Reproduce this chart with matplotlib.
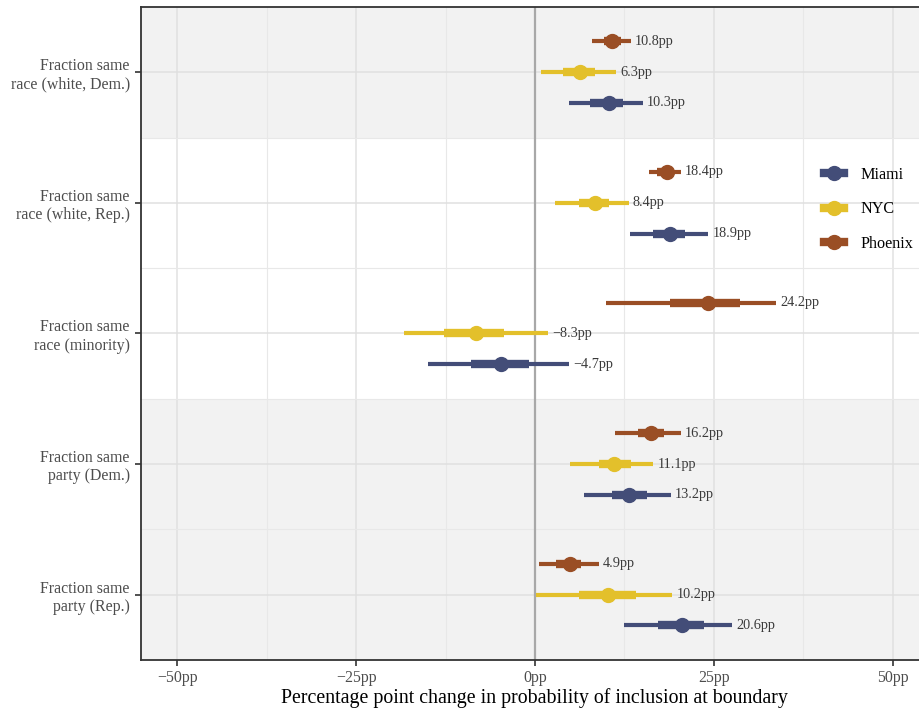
import numpy as np
import matplotlib.pyplot as plt

# ============================================================
# DATA
# ============================================================
categories = [
    "Fraction same\nrace (white, Dem.)",
    "Fraction same\nrace (white, Rep.)",
    "Fraction same\nrace (minority)",
    "Fraction same\nparty (Dem.)",
    "Fraction same\nparty (Rep.)",
]
cities = ["Miami", "NYC", "Phoenix"]

# point estimates (pp), one list per city, in category order
est_miami = [10.3, 18.9, -4.7, 13.2, 20.6]
est_nyc = [6.3, 8.4, -8.3, 11.1, 10.2]
est_phoenix = [10.8, 18.4, 24.2, 16.2, 4.9]

# outer interval (thin line)
lo_miami = [4.7, 13.3, -14.9, 6.9, 12.4]
hi_miami = [15.1, 24.2, 4.7, 19.0, 27.6]
lo_nyc = [0.8, 2.8, -18.3, 4.9, 0.2]
hi_nyc = [11.3, 13.1, 1.8, 16.5, 19.2]
lo_phoenix = [8.0, 15.9, 9.9, 11.2, 0.6]
hi_phoenix = [13.4, 20.4, 33.7, 20.4, 8.9]

# inner interval (thick line)
ilo_miami = [7.7, 16.5, -9.0, 10.7, 17.2]
ihi_miami = [12.3, 21.0, -0.9, 15.6, 23.6]
ilo_nyc = [3.9, 6.2, -12.7, 9.0, 6.2]
ihi_nyc = [8.4, 10.3, -4.3, 13.4, 14.1]
ilo_phoenix = [9.7, 17.0, 18.9, 14.4, 3.0]
ihi_phoenix = [12.0, 19.3, 28.7, 18.1, 6.5]

xticks = [-50, -25, 0, 25, 50]

colors = {"Miami": "#434d78", "NYC": "#e3c02b", "Phoenix": "#9a4e25"}
offsets = {"Miami": 0.235, "NYC": 0.0, "Phoenix": -0.237}

series = {
    "Miami": (est_miami, lo_miami, hi_miami, ilo_miami, ihi_miami),
    "NYC": (est_nyc, lo_nyc, hi_nyc, ilo_nyc, ihi_nyc),
    "Phoenix": (est_phoenix, lo_phoenix, hi_phoenix, ilo_phoenix, ihi_phoenix),
}

def fmt(v):
    s = f"{abs(v):.1f}pp"
    return ("\u2212" + s) if v < 0 else s

# ============================================================
# FIGURE
# ============================================================
plt.rcParams["font.family"] = ["Liberation Serif", "DejaVu Serif"]

fig = plt.figure(figsize=(9.19, 7.11), dpi=100)
ax = fig.add_axes([141 / 919, 51 / 711, 778 / 919, 653 / 711])

ypos = np.arange(len(categories))

# shaded bands
shaded = [0, 3, 4]
for i in shaded:
    ax.axhspan(i - 0.5, i + 0.5, color="#f2f2f2", lw=0, zorder=0)

# grid
for x in xticks:
    ax.axvline(x, color="#e1e1e1", lw=1.1, zorder=0.5)
for x in [-37.5, -12.5, 12.5, 37.5]:
    ax.axvline(x, color="#e8e8e8", lw=0.8, zorder=0.5)
for y in ypos:
    ax.axhline(y, color="#e0e0e0", lw=1.1, zorder=0.5)
for y in ypos[:-1] + 0.5:
    ax.axhline(y, color="#e8e8e8", lw=0.8, zorder=0.5)

ax.axvline(0, color="#a8a8a8", lw=1.6, zorder=1)

for city in cities:
    est, lo, hi, ilo, ihi = series[city]
    c = colors[city]
    yy = ypos + offsets[city]
    ax.hlines(yy, lo, hi, color=c, lw=3.0, zorder=2)
    ax.hlines(yy, ilo, ihi, color=c, lw=6.0, zorder=3)
    ax.plot(est, yy, "o", color=c, ms=10, zorder=4)
    for e, h, y in zip(est, hi, yy):
        ax.text(h + 0.6, y, fmt(e), va="center", ha="left",
                fontsize=10.3, color="#3a3a3a", zorder=5)

# legend proxies
for city in cities:
    ax.plot([], [], "-o", color=colors[city], lw=6, ms=10, label=city)
leg = ax.legend(loc="center left", bbox_to_anchor=(0.878, 0.690), frameon=False,
                fontsize=11.6, handlelength=1.25, labelspacing=1.15,
                handletextpad=1.0, borderpad=0, borderaxespad=0)

ax.set_xlim(-55.1, 53.7)
ax.set_ylim(4.5, -0.5)
ax.set_xticks(xticks)
ax.set_xticklabels([fmt(v).replace(".0", "") for v in xticks])
ax.set_yticks(ypos)
ax.set_yticklabels(categories)
ax.tick_params(axis="both", length=4, width=1.2, color="#333333",
               labelcolor="#4d4d4d", labelsize=11.4)
ax.tick_params(axis="x", pad=3)
ax.tick_params(axis="y", pad=4)

for s in ["left", "top", "bottom"]:
    ax.spines[s].set_color("#333333")
    ax.spines[s].set_linewidth(1.3)
ax.spines["right"].set_visible(False)

ax.set_xlabel("Percentage point change in probability of inclusion at boundary",
              fontsize=14.3, color="black")
ax.xaxis.set_label_coords(0.506, -0.0436)

fig.savefig("out.png", dpi=100)
